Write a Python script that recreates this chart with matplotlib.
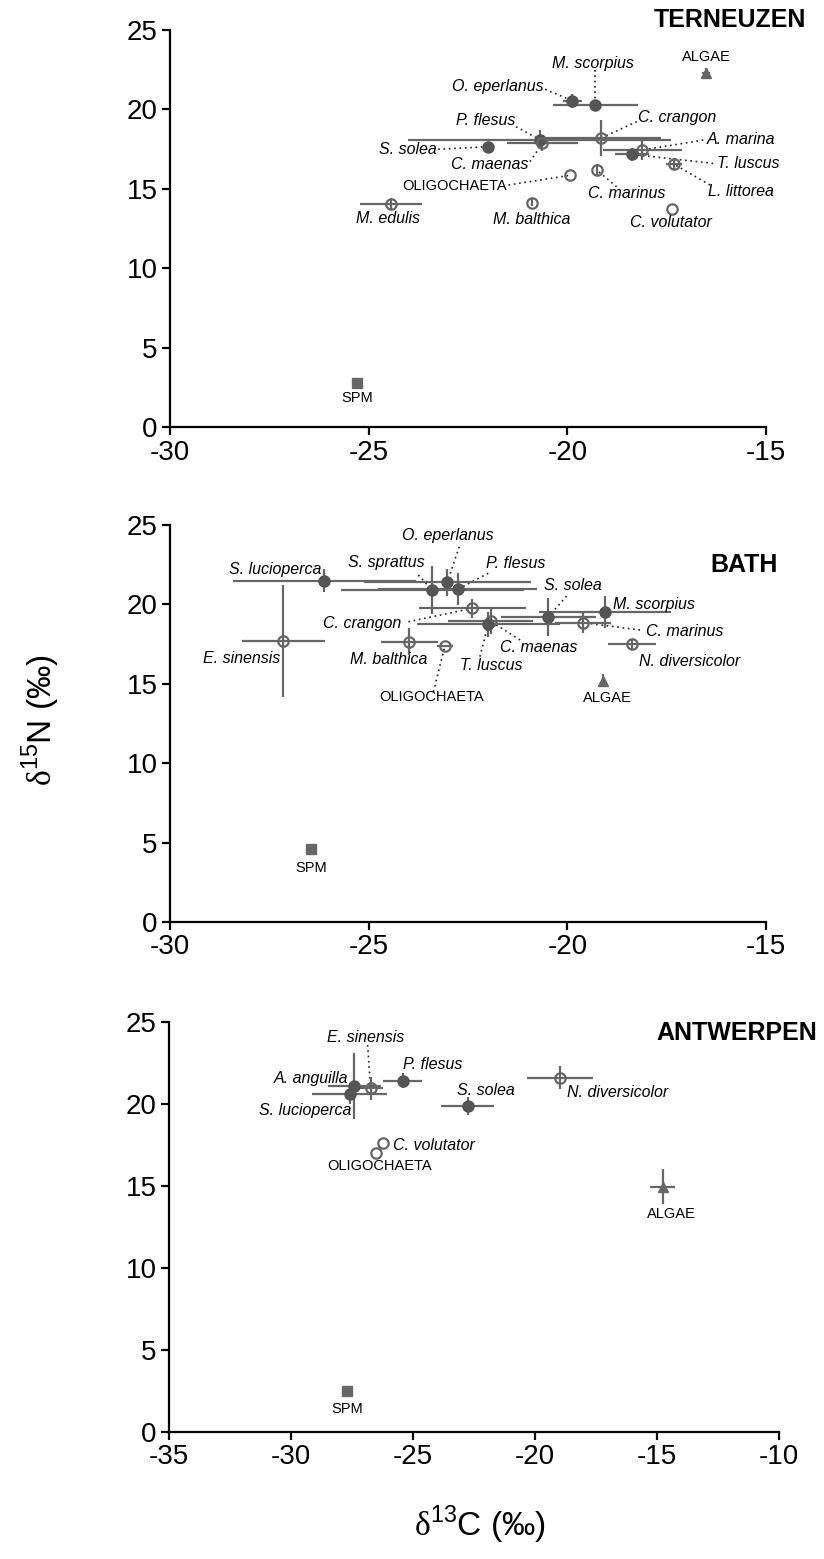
import matplotlib
matplotlib.use('Agg')
import matplotlib.pyplot as plt

plt.rcParams['font.family'] = ['Liberation Sans', 'DejaVu Sans']
plt.rcParams['axes.unicode_minus'] = False
plt.rcParams['mathtext.fontset'] = 'custom'
plt.rcParams['mathtext.rm'] = 'Liberation Serif'
plt.rcParams['mathtext.sf'] = 'Liberation Sans'

# ---- TERNEUZEN ----
t_names = ['ALGAE', 'M. scorpius', 'O. eperlanus', 'P. flesus', 'C. maenas', 'C. crangon',
           'A. marina', 'T. luscus', 'L. littorea', 'S. solea', 'C. marinus', 'OLIGOCHAETA',
           'M. balthica', 'M. edulis', 'C. volutator', 'SPM']
t_c13 = [-16.5, -19.3, -19.87, -20.7, -20.63, -19.15, -18.11, -18.38, -17.31, -21.99,
         -19.26, -19.93, -20.89, -24.45, -17.36, -25.3]
t_n15 = [22.3, 20.25, 20.55, 18.1, 17.86, 18.2, 17.44, 17.17, 16.54, 17.65,
         16.18, 15.85, 14.13, 14.04, 13.73, 2.8]
t_c13_sd = [0.1, 1.07, 0.25, 3.3, 0.9, 1.5, 1.0, 0.43, 0.2, 0, 0, 0, 0, 0.78, 0, 0]
t_n15_sd = [0.3, 0.1, 0.45, 0.58, 0.5, 1.15, 0.63, 0.4, 0.37, 0, 0.4, 0, 0.2, 0.4, 0, 0]
t_kind = ['tri', 'fish', 'fish', 'fish', 'inv', 'inv', 'inv', 'fish', 'inv', 'fish',
          'inv', 'inv', 'inv', 'inv', 'inv', 'spm']

# ---- BATH ----
b_names = ['S. lucioperca', 'S. sprattus', 'O. eperlanus', 'P. flesus', 'E. sinensis',
           'C. crangon', 'C. maenas', 'T. luscus', 'S. solea', 'C. marinus', 'M. scorpius',
           'N. diversicolor', 'M. balthica', 'OLIGOCHAETA', 'ALGAE', 'SPM']
b_c13 = [-26.12, -23.4, -23.02, -22.76, -27.15, -22.39, -21.93, -21.99, -20.48, -19.61,
         -19.05, -18.37, -23.98, -23.08, -19.11, -26.45]
b_n15 = [21.5, 20.9, 21.4, 20.95, 17.7, 19.75, 18.95, 18.75, 19.2, 18.85,
         19.5, 17.5, 17.65, 17.4, 15.2, 4.6]
b_c13_sd = [2.3, 2.3, 2.1, 2.0, 1.05, 1.35, 1.07, 1.8, 1.2, 0.7, 1.66, 0.6, 0.72, 0.2, 0, 0]
b_n15_sd = [0.75, 1.52, 0.86, 1.0, 3.55, 0.6, 0.8, 0.8, 1.2, 0.63, 1.0, 0.3, 0.84, 0, 0.4, 0]
b_kind = ['fish', 'fish', 'fish', 'fish', 'inv', 'inv', 'inv', 'fish', 'fish', 'inv',
          'fish', 'inv', 'inv', 'inv', 'tri', 'spm']

# ---- ANTWERPEN ----
a_names = ['A. anguilla', 'S. lucioperca', 'E. sinensis', 'P. flesus', 'S. solea',
           'N. diversicolor', 'C. volutator', 'OLIGOCHAETA', 'ALGAE', 'SPM']
a_c13 = [-27.4, -27.6, -26.74, -25.43, -22.76, -18.97, -26.25, -26.53, -14.77, -27.7]
a_n15 = [21.1, 20.6, 20.96, 21.42, 19.88, 21.6, 17.6, 17.03, 14.96, 2.5]
a_c13_sd = [1.08, 1.52, 0.5, 0.81, 1.1, 1.36, 0, 0, 0.5, 0]
a_n15_sd = [2.03, 0.6, 0.7, 0.45, 0.55, 0.7, 0, 0, 1.07, 0]
a_kind = ['fish', 'fish', 'inv', 'fish', 'fish', 'inv', 'inv', 'inv', 'tri', 'spm']

# label layout: (text, x, y, ha) and dotted leader start points
t_labels = [('M. scorpius', -19.35, 22.9, 'center'), ('ALGAE', -16.5, 23.3, 'center'),
            ('O. eperlanus', -20.59, 21.43, 'right'), ('P. flesus', -21.32, 19.27, 'right'),
            ('C. crangon', -18.22, 19.46, 'left'), ('A. marina', -16.49, 18.13, 'left'),
            ('S. solea', -23.29, 17.49, 'right'), ('T. luscus', -16.24, 16.6, 'left'),
            ('C. maenas', -20.99, 16.5, 'right'), ('OLIGOCHAETA', -21.53, 15.18, 'right'),
            ('L. littorea', -16.46, 14.82, 'left'), ('C. marinus', -18.51, 14.71, 'center'),
            ('M. edulis', -24.51, 13.1, 'center'), ('M. balthica', -20.9, 13.04, 'center'),
            ('C. volutator', -17.38, 12.85, 'center'), ('SPM', -25.3, 1.8, 'center')]
t_leaders = {'M. scorpius': (-19.3, 22.48), 'O. eperlanus': (-20.56, 21.26),
             'P. flesus': (-21.29, 18.91), 'C. crangon': (-18.25, 19.23),
             'A. marina': (-16.58, 18.07), 'S. solea': (-23.25, 17.49),
             'T. luscus': (-16.33, 16.6), 'C. maenas': (-20.94, 16.71),
             'OLIGOCHAETA': (-21.48, 15.24), 'L. littorea': (-16.41, 15.24),
             'C. marinus': (-18.76, 15.13)}

b_labels = [('S. lucioperca', -27.36, 22.17, 'center'), ('S. sprattus', -23.58, 22.63, 'right'),
            ('O. eperlanus', -23.0, 24.37, 'center'), ('P. flesus', -22.05, 22.58, 'left'),
            ('S. solea', -19.85, 21.16, 'center'), ('M. scorpius', -18.86, 20.0, 'left'),
            ('C. crangon', -24.17, 18.81, 'right'), ('C. marinus', -18.02, 18.32, 'left'),
            ('C. maenas', -20.71, 17.3, 'center'), ('N. diversicolor', -18.19, 16.39, 'left'),
            ('M. balthica', -24.5, 16.56, 'center'), ('T. luscus', -21.91, 16.18, 'center'),
            ('E. sinensis', -28.2, 16.6, 'center'), ('OLIGOCHAETA', -23.41, 14.15, 'center'),
            ('ALGAE', -19.0, 14.1, 'center'), ('SPM', -26.45, 3.4, 'center')]
b_leaders = {'S. sprattus': (-23.75, 21.85), 'O. eperlanus': (-22.72, 23.63),
             'P. flesus': (-21.99, 21.96), 'S. solea': (-20.02, 20.53),
             'C. crangon': (-24.0, 18.91), 'C. marinus': (-18.17, 18.39),
             'C. maenas': (-21.19, 17.76), 'T. luscus': (-22.2, 16.71),
             'OLIGOCHAETA': (-23.37, 14.5)}

a_labels = [('E. sinensis', -26.94, 24.07, 'center'), ('P. flesus', -24.19, 22.38, 'center'),
            ('A. anguilla', -27.64, 21.57, 'right'), ('S. lucioperca', -27.51, 19.63, 'right'),
            ('S. solea', -22.02, 20.81, 'center'), ('N. diversicolor', -18.7, 20.69, 'left'),
            ('C. volutator', -25.81, 17.44, 'left'), ('OLIGOCHAETA', -26.39, 16.24, 'center'),
            ('ALGAE', -14.43, 13.3, 'center'), ('SPM', -27.7, 1.4, 'center')]
a_leaders = {'E. sinensis': (-26.86, 23.6)}

GREY = '#666666'
DARK = '#555555'
PLAIN = ('OLIGOCHAETA', 'ALGAE', 'SPM')


def draw_panel(ax, names, xs, ys, xsd, ysd, kinds, labels, leaders, xlim, xticks):
    for n, x, y, xe, ye, k in zip(names, xs, ys, xsd, ysd, kinds):
        ax.errorbar(x, y, xerr=xe, yerr=ye, fmt='none', ecolor=GREY, elinewidth=1.6,
                    capsize=0, zorder=2)
        if k == 'fish':
            ax.plot(x, y, 'o', ms=8, mfc=DARK, mec=DARK, zorder=3)
        elif k == 'inv':
            ax.plot(x, y, 'o', ms=7.5, mfc='none', mec=GREY, mew=1.6, zorder=3)
        elif k == 'tri':
            ax.plot(x, y, '^', ms=6.5, mfc=GREY, mec=GREY, zorder=3)
        else:
            ax.plot(x, y, 's', ms=6.5, mfc=GREY, mec=GREY, zorder=3)
    pts = dict(zip(names, zip(xs, ys)))
    for text, lx, ly, ha in labels:
        if text in PLAIN:
            ax.text(lx, ly, text, ha=ha, va='center', fontsize=10.5, clip_on=False)
        else:
            ax.text(lx, ly, text, ha=ha, va='center', fontsize=11.5, style='italic',
                    clip_on=False)
    for n, (sx, sy) in leaders.items():
        px, py = pts[n]
        ax.plot([sx, px], [sy, py], ls=(0, (1, 2.2)), color='#222222', lw=1.2, zorder=1)
    ax.set_xlim(*xlim)
    ax.set_ylim(0, 25)
    ax.set_xticks(xticks)
    ax.set_yticks([0, 5, 10, 15, 20, 25])
    ax.spines['top'].set_visible(False)
    ax.spines['right'].set_visible(False)
    for s in ('left', 'bottom'):
        ax.spines[s].set_linewidth(1.6)
    ax.tick_params(length=6, width=1.6, labelsize=20, pad=3)


fig = plt.figure(figsize=(8.24, 15.59), dpi=100)
ax1 = fig.add_axes([170 / 824, 1 - 427 / 1559, 596 / 824, 397 / 1559])
ax2 = fig.add_axes([170 / 824, 1 - 922 / 1559, 596 / 824, 397 / 1559])
ax3 = fig.add_axes([169 / 824, 1 - 1432 / 1559, 610 / 824, 410 / 1559])

draw_panel(ax1, t_names, t_c13, t_n15, t_c13_sd, t_n15_sd, t_kind, t_labels, t_leaders,
           (-30, -15), [-30, -25, -20, -15])
draw_panel(ax2, b_names, b_c13, b_n15, b_c13_sd, b_n15_sd, b_kind, b_labels, b_leaders,
           (-30, -15), [-30, -25, -20, -15])
draw_panel(ax3, a_names, a_c13, a_n15, a_c13_sd, a_n15_sd, a_kind, a_labels, a_leaders,
           (-35, -10), [-35, -30, -25, -20, -15, -10])

ax1.text(1.067, 1.025, 'TERNEUZEN', transform=ax1.transAxes, ha='right', va='center',
         fontsize=18, fontweight='bold')
ax2.text(1.02, 0.90, 'BATH', transform=ax2.transAxes, ha='right', va='center',
         fontsize=18, fontweight='bold')
ax3.text(1.062, 0.973, 'ANTWERPEN', transform=ax3.transAxes, ha='right', va='center',
         fontsize=18, fontweight='bold')

fig.text(0.05, 1 - 720 / 1559, r'$\mathrm{\delta}^{\mathsf{15}}$N (‰)', rotation=90,
         ha='center', va='center', fontsize=24)
fig.text(480 / 824, 1 - 1525 / 1559, r'$\mathrm{\delta}^{\mathsf{13}}$C (‰)',
         ha='center', va='center', fontsize=24)

fig.savefig('out.png', dpi=100)
